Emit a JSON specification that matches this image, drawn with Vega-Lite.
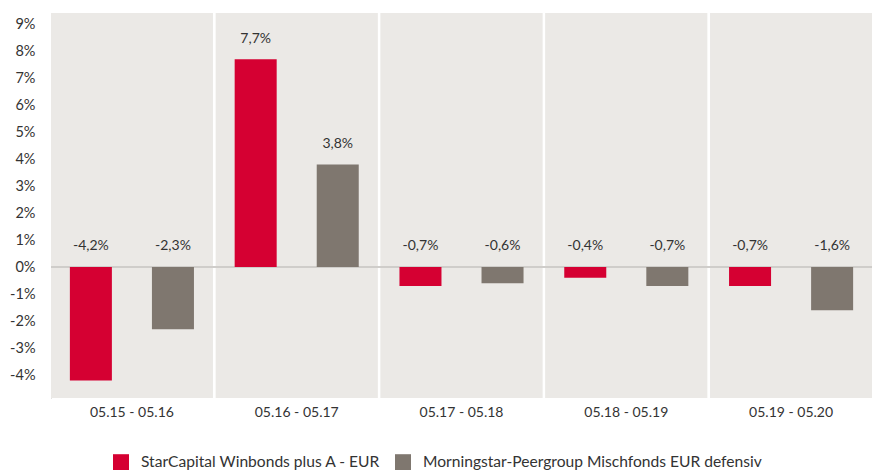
{
  "$schema": "https://vega.github.io/schema/vega-lite/v6.json",
  "width": 821,
  "height": 385,
  "autosize": {"type": "none"},
  "padding": {"left": 51, "top": 13, "right": 8, "bottom": 72},
  "background": "white",
  "config": {
    "view": {"stroke": null},
    "font": "Lato",
    "axisY": {"labelOverlap": false},
    "locale": {"number": {"decimal": ",", "thousands": ".", "grouping": [3], "currency": ["", " €"], "minus": "-"}}
  },
  "data": {
    "values": [
      {"period": "05.15 - 05.16", "series": "StarCapital Winbonds plus A - EUR", "value": -0.042},
      {"period": "05.15 - 05.16", "series": "Morningstar-Peergroup Mischfonds EUR defensiv", "value": -0.023},
      {"period": "05.16 - 05.17", "series": "StarCapital Winbonds plus A - EUR", "value": 0.077},
      {"period": "05.16 - 05.17", "series": "Morningstar-Peergroup Mischfonds EUR defensiv", "value": 0.038},
      {"period": "05.17 - 05.18", "series": "StarCapital Winbonds plus A - EUR", "value": -0.007},
      {"period": "05.17 - 05.18", "series": "Morningstar-Peergroup Mischfonds EUR defensiv", "value": -0.006},
      {"period": "05.18 - 05.19", "series": "StarCapital Winbonds plus A - EUR", "value": -0.004},
      {"period": "05.18 - 05.19", "series": "Morningstar-Peergroup Mischfonds EUR defensiv", "value": -0.007},
      {"period": "05.19 - 05.20", "series": "StarCapital Winbonds plus A - EUR", "value": -0.007},
      {"period": "05.19 - 05.20", "series": "Morningstar-Peergroup Mischfonds EUR defensiv", "value": -0.016}
    ]
  },
  "encoding": {
    "x": {
      "field": "period", "type": "nominal", "sort": null,
      "scale": {"paddingInner": 0.018, "paddingOuter": 0},
      "axis": {"title": null, "labelAngle": 0, "domain": false, "ticks": false, "labelFontSize": 14, "labelColor": "#333333", "labelPadding": 7}
    }
  },
  "layer": [
    {
      "mark": {"type": "rect", "color": "#ebe9e6"},
      "encoding": {}
    },
    {
      "mark": {"type": "rule", "color": "#cfcdca", "strokeWidth": 1.5},
      "encoding": {
        "y": {"datum": 0, "type": "quantitative",
          "scale": {"domain": [-0.0485, 0.0941], "nice": false, "zero": false},
          "axis": {"title": null, "format": ".0%", "values": [-0.04, -0.03, -0.02, -0.01, 0, 0.01, 0.02, 0.03, 0.04, 0.05, 0.06, 0.07, 0.08, 0.09], "labelOverlap": false, "grid": false, "ticks": false, "domainColor": "#c8c6c3", "labelFontSize": 14.5, "labelColor": "#333333", "labelPadding": 16}},
        "x": {"value": 0}, "x2": {"value": 821}}
    },
    {
      "mark": {"type": "bar"},
      "encoding": {
        "xOffset": {"field": "series", "type": "nominal", "sort": null, "scale": {"paddingInner": 0.488, "paddingOuter": 0.23}},
        "y": {
          "field": "value", "type": "quantitative",
          "scale": {"domain": [-0.0485, 0.0941], "nice": false, "zero": false},
          "axis": {"title": null, "format": ".0%", "values": [-0.04, -0.03, -0.02, -0.01, 0, 0.01, 0.02, 0.03, 0.04, 0.05, 0.06, 0.07, 0.08, 0.09], "labelOverlap": false, "grid": false, "ticks": false, "domainColor": "#c8c6c3", "labelFontSize": 14.5, "labelColor": "#333333", "labelPadding": 16}
        },
        "y2": {"datum": 0},
        "color": {
          "field": "series", "type": "nominal", "sort": null,
          "scale": {"domain": ["StarCapital Winbonds plus A - EUR", "Morningstar-Peergroup Mischfonds EUR defensiv"], "range": ["#d50032", "#7f776f"]},
          "legend": {"title": null, "orient": "none", "legendX": 62, "legendY": 441, "direction": "horizontal", "symbolType": "square", "symbolSize": 256, "symbolStrokeWidth": 0, "symbolOpacity": 1, "labelFontSize": 15.6, "labelLimit": 0, "labelOffset": 12, "labelColor": "#333333", "columnPadding": 14, "symbolOffset": 0}
        }
      }
    },
    {
      "transform": [{"filter": "datum.value > 0"}],
      "mark": {"type": "text", "baseline": "middle", "dy": -20, "fontSize": 14, "color": "#333333"},
      "encoding": {
        "xOffset": {"field": "series", "type": "nominal", "sort": null},
        "y": {"field": "value", "type": "quantitative",
          "axis": {"title": null, "format": ".0%", "values": [-0.04, -0.03, -0.02, -0.01, 0, 0.01, 0.02, 0.03, 0.04, 0.05, 0.06, 0.07, 0.08, 0.09], "labelOverlap": false, "grid": false, "ticks": false, "domainColor": "#c8c6c3", "labelFontSize": 14.5, "labelColor": "#333333", "labelPadding": 16}},
        "text": {"field": "value", "type": "quantitative", "format": ".1%"}
      }
    },
    {
      "transform": [{"filter": "datum.value < 0"}],
      "mark": {"type": "text", "baseline": "middle", "dy": -21, "fontSize": 14, "color": "#333333"},
      "encoding": {
        "xOffset": {"field": "series", "type": "nominal", "sort": null},
        "y": {"datum": 0, "type": "quantitative",
          "axis": {"title": null, "format": ".0%", "values": [-0.04, -0.03, -0.02, -0.01, 0, 0.01, 0.02, 0.03, 0.04, 0.05, 0.06, 0.07, 0.08, 0.09], "labelOverlap": false, "grid": false, "ticks": false, "domainColor": "#c8c6c3", "labelFontSize": 14.5, "labelColor": "#333333", "labelPadding": 16}},
        "text": {"field": "value", "type": "quantitative", "format": ".1%"}
      }
    }
  ]
}
